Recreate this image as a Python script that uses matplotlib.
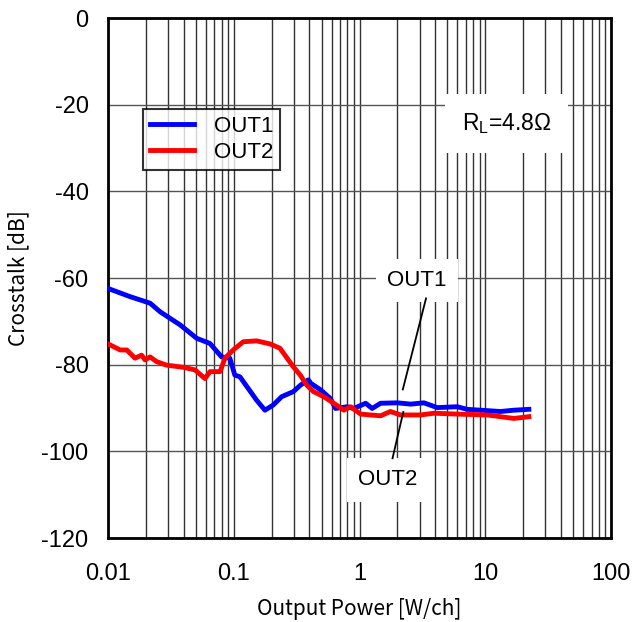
import matplotlib.pyplot as plt
from matplotlib.ticker import FixedLocator, NullFormatter

plt.rcParams['font.family'] = ['Liberation Sans', 'DejaVu Sans']

# Crosstalk vs output power
out1_power = [0.01, 0.015, 0.0216, 0.026, 0.0374, 0.0507, 0.0647, 0.080, 0.093,
              0.102, 0.112, 0.152, 0.177, 0.206, 0.240, 0.298, 0.34, 0.392, 0.41,
              0.49, 0.587, 0.644, 0.80, 0.90, 1.12, 1.26, 1.47, 2.0, 2.55, 3.25,
              4.15, 5.98, 7.19, 10.4, 13.2, 16.9, 22.2]
out1_db = [-62.4, -64.3, -65.8, -67.8, -70.8, -73.9, -75.1, -78.2, -78.5,
           -82.4, -82.8, -88.2, -90.5, -89.3, -87.4, -86.2, -84.7, -83.5, -84.3,
           -85.8, -87.8, -90.1, -89.7, -90.1, -88.9, -90.1, -88.9, -88.8, -89.1,
           -88.8, -89.9, -89.7, -90.3, -90.6, -90.8, -90.5, -90.3]

out2_power = [0.01, 0.0125, 0.0141, 0.0164, 0.0185, 0.0197, 0.0216, 0.0244, 0.0292,
              0.0397, 0.0492, 0.059, 0.0648, 0.0778, 0.0851, 0.099, 0.119, 0.152,
              0.194, 0.233, 0.298, 0.34, 0.38, 0.43, 0.52, 0.625, 0.75, 0.85, 1.02,
              1.47, 1.76, 2.12, 3.06, 3.9, 6.0, 10.4, 16.9, 22.2]
out2_db = [-75.2, -76.6, -76.6, -78.5, -77.8, -78.9, -78.2, -79.3, -80.1,
           -80.6, -81.2, -83.2, -81.6, -81.6, -78.5, -76.6, -74.7, -74.5,
           -75.2, -76.2, -80.5, -82.5, -84.7, -86.2, -87.4, -88.9, -90.5, -89.7, -91.4,
           -91.8, -90.8, -91.6, -91.6, -91.2, -91.4, -91.6, -92.4, -92.0]

x_ticks = [0.01, 0.1, 1, 10, 100]
x_labels = ['0.01', '0.1', '1', '10', '100']
y_ticks = [0, -20, -40, -60, -80, -100, -120]

fig = plt.figure(figsize=(6.32, 6.22), dpi=100)
ax = fig.add_axes([0.1709, 0.135, 0.7959, 0.836])

ax.plot(out1_power, out1_db, color='#0000ff', lw=3.5, label='OUT1', zorder=3)
ax.plot(out2_power, out2_db, color='#ff0000', lw=3.5, label='OUT2', zorder=3)

ax.set_xscale('log')
ax.set_xlim(0.01, 100)
ax.set_ylim(-120, 0)

# grid: every decade step in x, every 20 dB in y
minor = [m * 10.0 ** e for e in range(-2, 2) for m in range(2, 10)]
ax.xaxis.set_minor_locator(FixedLocator(minor))
ax.xaxis.set_minor_formatter(NullFormatter())
ax.set_xticks(x_ticks)
ax.set_xticklabels(x_labels)
ax.set_yticks(y_ticks)
ax.set_yticklabels([str(v) if v == 0 else '-' + str(-v) for v in y_ticks])
ax.grid(which='major', axis='x', color='#333333', lw=1)
ax.grid(which='minor', axis='x', color='#333333', lw=1)
ax.grid(which='major', axis='y', color='#555555', lw=1)
ax.tick_params(which='both', length=0, labelsize=17)
ax.tick_params(axis='x', pad=18)
ax.tick_params(axis='y', pad=14)
for s in ax.spines.values():
    s.set_linewidth(2)

ax.set_xlabel('Output Power [W/ch]', fontsize=15, labelpad=9,
              family=['Noto Sans CJK JP', 'DejaVu Sans'])
ax.set_ylabel('Crosstalk [dB]', fontsize=15, labelpad=9,
              family=['Noto Sans CJK JP', 'DejaVu Sans'])

leg = ax.legend(loc='upper left', bbox_to_anchor=(0.0696, 0.825), fontsize=16,
                frameon=True, fancybox=False, edgecolor='black',
                handlelength=2.0, handletextpad=0.9, borderpad=0.3,
                labelspacing=0.25, borderaxespad=0)
leg.get_frame().set_linewidth(1.5)
leg.set_zorder(5)

ax.text(14.8, -24.3, 'R$_\\mathregular{L}$=4.8Ω', fontsize=16.5, ha='center',
        va='center', bbox=dict(facecolor='white', edgecolor='none', pad=12),
        zorder=4)
ax.text(2.85, -60.5, 'OUT1', fontsize=16, ha='center', va='center',
        bbox=dict(facecolor='white', edgecolor='none', pad=8), zorder=4)
ax.text(1.67, -106.6, 'OUT2', fontsize=16, ha='center', va='center',
        bbox=dict(facecolor='white', edgecolor='none', pad=8), zorder=4)
ax.plot([3.38, 2.21], [-64.7, -85.7], color='black', lw=1.3, zorder=4)
ax.plot([2.23, 1.83], [-90.9, -101.6], color='black', lw=1.3, zorder=4)

fig.savefig('out.png', dpi=100)
